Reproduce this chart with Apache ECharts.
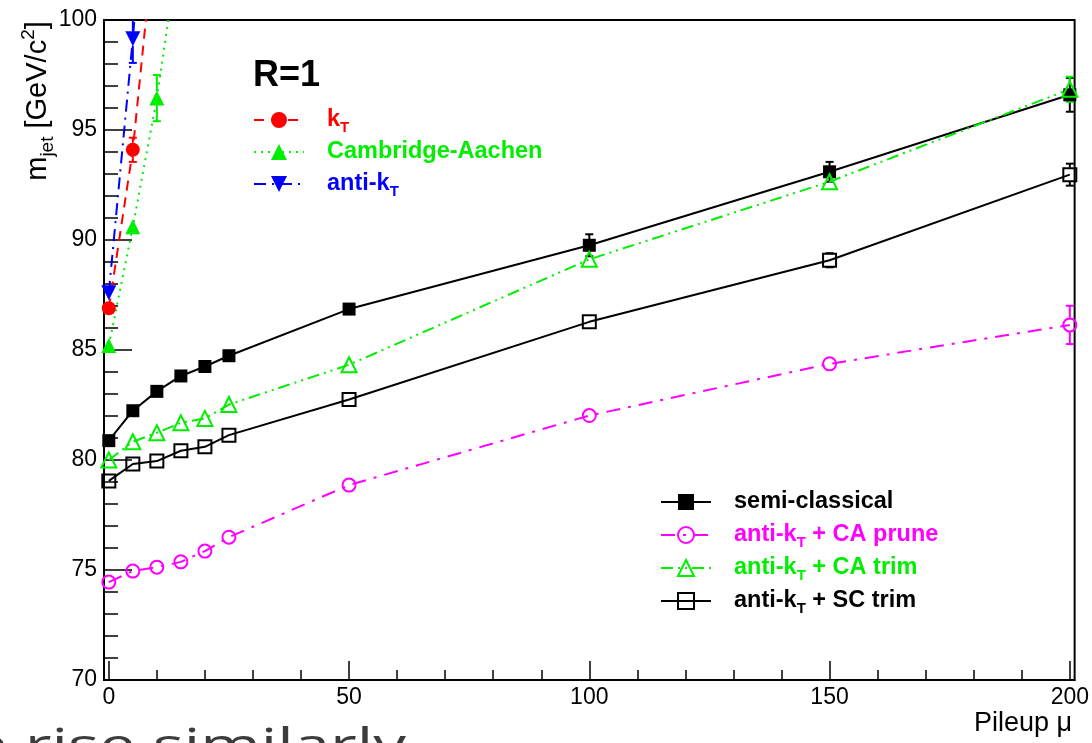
<!DOCTYPE html>
<html>
<head>
<meta charset="utf-8">
<script src="https://cdn.jsdelivr.net/npm/echarts@6/dist/echarts.min.js"></script>
<style>
  html, body { margin: 0; padding: 0; background: #fff; }
  #chart { width: 1092px; height: 743px; }
</style>
</head>
<body>
<div id="chart"></div>
<script>
// Jet mass vs pileup for R=1 jets, several algorithms / grooming schemes
const pileup = [0, 5, 10, 15, 20, 25, 50, 100, 150, 200];

const semiClassical    = [80.88, 82.24, 83.12, 83.82, 84.25, 84.74, 86.86, 89.76, 93.10, 96.60];
const semiClassicalErr = [0.1, 0.1, 0.1, 0.1, 0.1, 0.15, 0.25, 0.5, 0.45, 0.77];

const caPrune    = [74.45, 74.95, 75.13, 75.37, 75.86, 76.49, 78.86, 82.02, 84.37, 86.14];
const caPruneErr = [0.1, 0.1, 0.1, 0.1, 0.1, 0.1, 0.15, 0.2, 0.25, 0.87];

const caTrim    = [80.00, 80.83, 81.24, 81.69, 81.89, 82.52, 84.33, 89.12, 92.65, 96.85];
const caTrimErr = [0.1, 0.1, 0.1, 0.1, 0.1, 0.1, 0.15, 0.2, 0.25, 0.57];

const scTrim    = [79.05, 79.82, 79.95, 80.42, 80.60, 81.13, 82.75, 86.28, 89.08, 92.97];
const scTrimErr = [0.1, 0.1, 0.1, 0.1, 0.1, 0.1, 0.15, 0.2, 0.32, 0.5];

// ungroomed jets rise steeply and leave the frame
const kTPileup = [0, 5, 10];
const kTMass   = [86.9, 94.1, 105.0];
const kTErr    = [0.1, 0.55, 0.8];

const caPileup = [0, 5, 10, 15];
const caMass   = [85.2, 90.6, 96.45, 103.9];
const caErr    = [0.1, 0.3, 1.05, 1.2];

const akTPileup = [0, 5, 10];
const akTMass   = [87.6, 99.15, 112.0];
const akTErr    = [0.1, 1.1, 1.5];

const xMajorTicks = [0, 50, 100, 150, 200];
const xMinorTicks = [10, 20, 30, 40, 60, 70, 80, 90, 110, 120, 130, 140, 160, 170, 180, 190];

const FONT = '"Liberation Sans", Arial, Helvetica, sans-serif';

function pairs(xs, ys) { return xs.map((x, i) => [x, ys[i]]); }

// vertical error bars with end caps; open markers leave their interior empty
function errorBars(xs, ys, errs, color, gapPx) {
  return {
    type: 'custom',
    z: 1,
    silent: true,
    data: xs.map((x, i) => [x, ys[i], errs[i]]),
    renderItem: function (params, api) {
      const x = api.value(0), y = api.value(1), e = api.value(2);
      const c = api.coord([x, y]);
      const top = Math.max(api.coord([x, y + e])[1], params.coordSys.y);
      const bot = Math.min(api.coord([x, y - e])[1], params.coordSys.y + params.coordSys.height);
      if (c[1] < params.coordSys.y) return null;
      const st = { stroke: color, lineWidth: 2 };
      const kids = [];
      if (c[1] - top > gapPx) {
        kids.push({ type: 'line', shape: { x1: c[0], y1: c[1] - gapPx, x2: c[0], y2: top }, style: st });
        if (top > params.coordSys.y + 1)
          kids.push({ type: 'line', shape: { x1: c[0] - 4, y1: top, x2: c[0] + 4, y2: top }, style: st });
      }
      if (bot - c[1] > gapPx) {
        kids.push({ type: 'line', shape: { x1: c[0], y1: c[1] + gapPx, x2: c[0], y2: bot }, style: st });
        kids.push({ type: 'line', shape: { x1: c[0] - 4, y1: bot, x2: c[0] + 4, y2: bot }, style: st });
      }
      return { type: 'group', children: kids };
    }
  };
}

function lineSeries(name, data, color, dash, symbol, size, open, rotate) {
  return {
    name: name,
    type: 'line',
    z: 3,
    data: data,
    symbol: symbol,
    symbolSize: size,
    symbolRotate: rotate || 0,
    showAllSymbol: true,
    clip: true,
    lineStyle: { color: color, width: 2, type: dash },
    itemStyle: open
      ? { color: 'rgba(0,0,0,0)', borderColor: color, borderWidth: 2 }
      : { color: color, borderColor: color, borderWidth: 0 },
    emphasis: { disabled: true },
    animation: false
  };
}

const richSub = {
  t: { fontSize: 23.5, fontWeight: 'bold', fontFamily: FONT, lineHeight: 30 },
  s: { fontSize: 15, fontWeight: 'bold', fontFamily: FONT, lineHeight: 14, verticalAlign: 'bottom' }
};

const legendLabels = {
  'kT': '{t|k}{s|T}',
  'Cambridge-Aachen': '{t|Cambridge-Aachen}',
  'anti-kT': '{t|anti-k}{s|T}',
  'semi-classical': '{t|semi-classical}',
  'anti-kT + CA prune': '{t|anti-k}{s|T}{t| + CA prune}',
  'anti-kT + CA trim': '{t|anti-k}{s|T}{t| + CA trim}',
  'anti-kT + SC trim': '{t|anti-k}{s|T}{t| + SC trim}'
};

const legendBase = {
  orient: 'vertical',
  selectedMode: false,
  itemWidth: 50,
  itemHeight: 20,
  itemGap: 2,
  padding: 0,
  formatter: n => legendLabels[n],
  textStyle: { fontSize: 23.5, fontWeight: 'bold', fontFamily: FONT, lineHeight: 30, padding: [0, 0, 0, 18], rich: richSub }
};

const chart = echarts.init(document.getElementById('chart'), null, { renderer: 'canvas' });

chart.setOption({
  animation: false,
  backgroundColor: '#fff',
  grid: { left: 104, right: 17, top: 20, bottom: 63, show: true, borderColor: '#000', borderWidth: 2, backgroundColor: 'transparent' },
  xAxis: [
    {
      type: 'value', min: -1, max: 201,
      axisLine: { show: true, onZero: false, lineStyle: { color: '#000', width: 2 } },
      axisTick: { show: true, inside: true, length: 19, customValues: xMajorTicks, lineStyle: { color: '#000', width: 1.5 } },
      axisLabel: { show: true, customValues: xMajorTicks, color: '#000', fontSize: 23, fontFamily: FONT, margin: 6 },
      splitLine: { show: false }
    },
    {
      type: 'value', min: -1, max: 201, position: 'bottom',
      axisLine: { show: false },
      axisTick: { show: true, inside: true, length: 10, customValues: xMinorTicks, lineStyle: { color: '#000', width: 1.5 } },
      axisLabel: { show: false },
      splitLine: { show: false }
    }
  ],
  yAxis: {
    type: 'value', min: 70, max: 100, interval: 5,
    axisLine: { show: true, onZero: false, lineStyle: { color: '#000', width: 2 } },
    axisTick: { show: true, inside: true, length: 28, lineStyle: { color: '#000', width: 1.5 } },
    minorTick: { show: true, splitNumber: 5, length: 14, lineStyle: { color: '#000', width: 1.5 } },
    axisLabel: { color: '#000', fontSize: 23, fontFamily: FONT, margin: 7 },
    splitLine: { show: false }
  },
  legend: [
    Object.assign({}, legendBase, {
      left: 253, top: 105,
      data: [
        { name: 'kT', textStyle: { color: '#ff0000' } },
        { name: 'Cambridge-Aachen', textStyle: { color: '#00ee00' } },
        { name: 'anti-kT', textStyle: { color: '#0000ff' } }
      ]
    }),
    Object.assign({}, legendBase, {
      left: 660, top: 487, itemGap: 3,
      data: [
        { name: 'semi-classical', textStyle: { color: '#000' } },
        { name: 'anti-kT + CA prune', textStyle: { color: '#ff00ff' } },
        { name: 'anti-kT + CA trim', textStyle: { color: '#00ee00' } },
        { name: 'anti-kT + SC trim', textStyle: { color: '#000' } }
      ]
    })
  ],
  graphic: [
    {
      type: 'text', left: 253, top: 58,
      style: { text: 'R=1', font: 'bold 36px ' + FONT, fill: '#000' }
    },
    {
      type: 'text', x: 38, y: 101, rotation: Math.PI / 2,
      style: {
        text: '{m|m}{s|jet}{m| [GeV/c}{p|2}{m|]}',
        align: 'center', verticalAlign: 'middle', fill: '#000',
        rich: {
          m: { fontSize: 29, fontFamily: FONT, lineHeight: 38 },
          s: { fontSize: 19, fontFamily: FONT, lineHeight: 19, verticalAlign: 'bottom' },
          p: { fontSize: 19, fontFamily: FONT, lineHeight: 19, verticalAlign: 'top' }
        }
      }
    },
    {
      type: 'text', right: 20, top: 710,
      style: { text: 'Pileup μ', font: '27px ' + FONT, fill: '#000' }
    },
    {
      type: 'text', x: 406, y: 748, scaleX: 1.42,
      style: { text: 'e rise similarly', font: '46px "Open Sans", sans-serif', fill: '#3c3c3c', align: 'right', verticalAlign: 'middle' }
    }
  ],
  series: [
    errorBars(pileup, semiClassical, semiClassicalErr, '#000', 6),
    errorBars(pileup, caPrune, caPruneErr, '#ff00ff', 7),
    errorBars(pileup, caTrim, caTrimErr, '#00ee00', 7),
    errorBars(pileup, scTrim, scTrimErr, '#000', 7),
    errorBars(kTPileup, kTMass, kTErr, '#ff0000', 7),
    errorBars(caPileup, caMass, caErr, '#00ee00', 7),
    errorBars(akTPileup, akTMass, akTErr, '#0000ff', 7),

    lineSeries('kT', pairs(kTPileup, kTMass), '#ff0000', [10, 7], 'circle', 14, false),
    lineSeries('Cambridge-Aachen', pairs(caPileup, caMass), '#00ee00', [2, 5], 'triangle', 15, false),
    lineSeries('anti-kT', pairs(akTPileup, akTMass), '#0000ff', [12, 6, 2, 6], 'triangle', 15, false, 180),

    lineSeries('semi-classical', pairs(pileup, semiClassical), '#000', 'solid', 'rect', 13, false),
    lineSeries('anti-kT + CA prune', pairs(pileup, caPrune), '#ff00ff', [14, 8, 3, 8], 'circle', 13, true),
    lineSeries('anti-kT + CA trim', pairs(pileup, caTrim), '#00ee00', [12, 5, 2, 5, 2, 5], 'triangle', 15, true),
    lineSeries('anti-kT + SC trim', pairs(pileup, scTrim), '#000', 'solid', 'rect', 13, true)
  ]
});
</script>
</body>
</html>
